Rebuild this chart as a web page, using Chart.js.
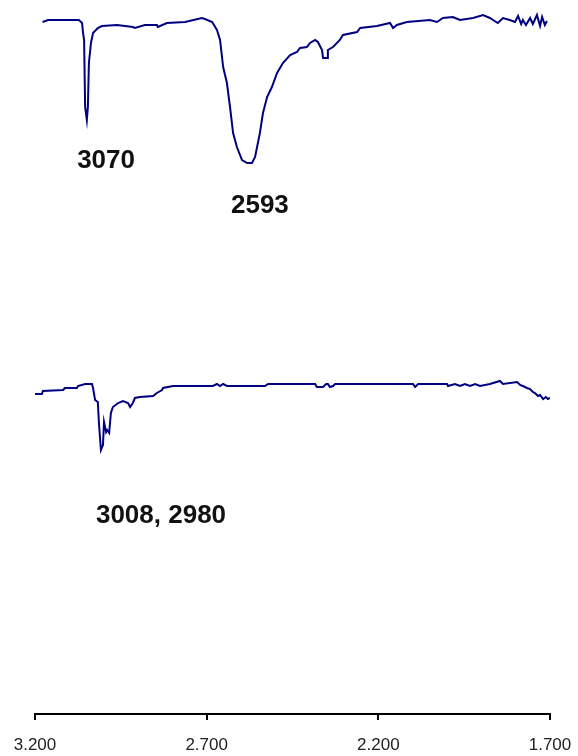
<!DOCTYPE html>
<html>
<head>
<meta charset="utf-8">
<script src="https://cdn.jsdelivr.net/npm/chart.js@4"></script>
<style>
  html, body { margin: 0; padding: 0; background: #fff; }
  #wrap { width: 578px; height: 756px; position: relative; }
</style>
</head>
<body>
<div id="wrap"><canvas id="spectrum"></canvas></div>
<script>
// upper spectrum (wavenumber, signal in arbitrary units)
const waveUpper = [3178, 3162, 3072, 3063, 3060, 3057, 3054, 3049, 3046, 3043, 3037, 3031, 3017, 3005,
  2961, 2915, 2909, 2880, 2845, 2842, 2816, 2763, 2714, 2705, 2684, 2670, 2661, 2652, 2641, 2632,
  2623, 2612, 2597, 2582, 2568, 2559, 2545, 2536, 2524, 2510, 2495, 2478, 2457, 2437, 2428, 2408,
  2399, 2384, 2376, 2364, 2361, 2349, 2347, 2332, 2312, 2303, 2262, 2253, 2204, 2166, 2157, 2146,
  2117, 2050, 2029, 2012, 1983, 1962, 1924, 1895, 1875, 1866, 1852, 1837, 1817, 1802, 1793, 1784,
  1779, 1770, 1758, 1750, 1738, 1729, 1723, 1715, 1709];
const signalUpper = [692, 694, 694, 691, 681, 674, 607, 594, 607, 651, 671, 681, 686, 688,
  689, 687, 686, 689, 689, 687, 691, 692, 696, 695, 692, 684, 674, 647, 631, 607,
  581, 567, 554, 551, 551, 557, 581, 601, 617, 627, 641, 651, 659, 662, 666, 667,
  671, 674, 672, 664, 656, 656, 664, 667, 674, 679, 682, 686, 688, 691, 686, 689,
  692, 694, 692, 696, 697, 694, 696, 699, 696, 694, 691, 696, 694, 692, 698, 690,
  694, 689, 696, 690, 699, 688, 697, 689, 693];

// lower spectrum
const waveLower = [3200, 3180, 3177, 3118, 3113, 3078, 3075, 3054, 3034, 3031, 3025, 3017, 3014, 3008,
  3002, 2999, 2993, 2990, 2984, 2979, 2973, 2958, 2944, 2929, 2923, 2915, 2909, 2894, 2856, 2845,
  2830, 2827, 2798, 2682, 2670, 2661, 2652, 2641, 2530, 2521, 2384, 2379, 2361, 2352, 2347, 2341,
  2332, 2326, 2099, 2093, 2084, 2000, 1997, 1977, 1962, 1948, 1933, 1918, 1904, 1875, 1846, 1837,
  1796, 1787, 1779, 1767, 1758, 1750, 1744, 1735, 1729, 1720, 1712, 1706, 1700];
const signalLower = [320, 320, 323, 324, 326, 326, 328, 330, 330, 326, 314, 312, 292, 264,
  269, 292, 282, 284, 281, 301, 307, 311, 313, 311, 307, 311, 316, 317, 318, 321,
  324, 326, 328, 328, 330, 328, 330, 328, 328, 330, 330, 327, 327, 330, 330, 327,
  328, 330, 330, 327, 330, 330, 328, 330, 328, 330, 328, 330, 328, 330, 333, 330,
  332, 329, 328, 326, 325, 322, 321, 318, 319, 315, 317, 315, 316];

const tickValues = [3200, 2700, 2200, 1700];

// peak labels
const noteText = ['3070', '2593', '3008, 2980'];
const noteWave = [2993, 2545, 2833];
const noteSignal = [553, 508, 198];

const lineColor = '#000080';

const peakLabels = {
  id: 'peakLabels',
  afterDatasetsDraw(chart) {
    const ctx = chart.ctx;
    const xs = chart.scales.x, ys = chart.scales.y;
    ctx.save();
    ctx.font = 'bold 26px "Liberation Sans", Arial, sans-serif';
    ctx.fillStyle = '#111';
    ctx.textAlign = 'center';
    ctx.textBaseline = 'middle';
    noteText.forEach((t, i) => {
      ctx.fillText(t, xs.getPixelForValue(noteWave[i]), ys.getPixelForValue(noteSignal[i]));
    });
    ctx.restore();
  }
};

new Chart(document.getElementById('spectrum'), {
  type: 'line',
  data: {
    datasets: [
      {
        data: waveUpper.map((w, i) => ({ x: w, y: signalUpper[i] })),
        borderColor: lineColor,
        borderWidth: 2,
        pointRadius: 0,
        tension: 0
      },
      {
        data: waveLower.map((w, i) => ({ x: w, y: signalLower[i] })),
        borderColor: lineColor,
        borderWidth: 2,
        pointRadius: 0,
        tension: 0
      }
    ]
  },
  options: {
    responsive: true,
    maintainAspectRatio: false,
    animation: false,
    layout: { padding: { left: 35, right: 28, top: 0, bottom: 0 } },
    plugins: { legend: { display: false }, tooltip: { enabled: false } },
    scales: {
      x: {
        type: 'linear',
        reverse: true,
        min: 1700,
        max: 3200,
        afterBuildTicks: (scale) => { scale.ticks = tickValues.map(v => ({ value: v })); },
        afterFit: (scale) => {
          scale.height = 42;
          scale.paddingLeft = 0;
          scale.paddingRight = 0;
        },
        border: { display: true, color: '#000', width: 2 },
        grid: { drawOnChartArea: false, drawTicks: true, tickLength: 6, color: '#000', lineWidth: 2 },
        ticks: {
          padding: 15,
          maxRotation: 0,
          color: '#222',
          font: { family: '"Liberation Sans", Arial, sans-serif', size: 17 },
          callback: (v) => v.toLocaleString('de-DE')
        }
      },
      y: {
        display: false,
        min: 0,
        max: 714
      }
    }
  },
  plugins: [peakLabels]
});
</script>
</body>
</html>
